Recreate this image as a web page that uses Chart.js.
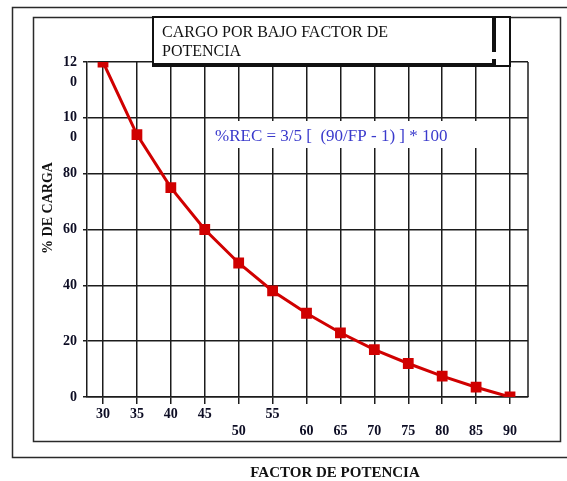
<!DOCTYPE html>
<html><head><meta charset="utf-8">
<script src="https://cdn.jsdelivr.net/npm/chart.js@4"></script>
<style>html,body{margin:0;padding:0;background:#fff;overflow:hidden}</style>
</head><body>
<canvas id="c" width="567" height="481"></canvas>
<script>
// ---- data ----
const factorPotencia = [30, 35, 40, 45, 50, 55, 60, 65, 70, 75, 80, 85, 90];
const porcentajeCarga = [120, 94, 75, 60, 48, 38, 30, 23, 17, 12, 7.5, 3.5, 0];
const xTickLabels = ['30', '35', '40', '45', '50', '55', '60', '65', '70', '75', '80', '85', '90'];
const xTickLowered = [false, false, false, false, true, false, true, true, true, true, true, true, true];
const yTickValues = [0, 20, 40, 60, 80, 100, 120];
const yTickLabels = [['0'], ['20'], ['40'], ['60'], ['80'], ['', '10', '0'], ['', '12', '0']];
const chartTitle = ['CARGO POR BAJO FACTOR DE', 'POTENCIA'];
const formulaText = '%REC = 3/5 [  (90/FP - 1) ] * 100';
const xTitle = 'FACTOR DE POTENCIA';
const yTitle = '% DE CARGA';

const points = factorPotencia.map((x, i) => ({ x: x, y: porcentajeCarga[i] }));
const lineCol = '#1c1c1c';
const serif = '"Liberation Serif", "DejaVu Serif", serif';

const decor = {
  id: 'decor',
  beforeDraw(chart) {
    const ctx = chart.ctx;
    ctx.save();
    ctx.fillStyle = '#fff';
    ctx.fillRect(0, 0, chart.width, chart.height);
    ctx.strokeStyle = '#2a2a2a';
    ctx.lineWidth = 1.5;
    ctx.beginPath();
    ctx.moveTo(chart.width, 7.5); ctx.lineTo(12.5, 7.5); ctx.lineTo(12.5, 457.5); ctx.lineTo(chart.width, 457.5);
    ctx.stroke();
    ctx.strokeRect(33.5, 17.5, 527, 424);
    // y title
    ctx.fillStyle = '#111';
    ctx.font = 'bold 14px ' + serif;
    ctx.textAlign = 'center';
    ctx.textBaseline = 'middle';
    ctx.translate(48, 208);
    ctx.rotate(-Math.PI / 2);
    ctx.fillText(yTitle, 0, 0);
    ctx.restore();
    ctx.save();
    ctx.fillStyle = '#111';
    ctx.font = 'bold 15px ' + serif;
    ctx.textAlign = 'center';
    ctx.textBaseline = 'middle';
    ctx.fillText(xTitle, 335, 473);
    ctx.restore();
  },
  beforeDatasetsDraw(chart) {
    const ctx = chart.ctx, a = chart.chartArea;
    ctx.save();
    ctx.strokeStyle = lineCol;
    ctx.lineWidth = 1.5;
    ctx.beginPath();
    ctx.moveTo(a.right, a.top); ctx.lineTo(a.right, a.bottom);
    ctx.stroke();
    // formula label
    ctx.fillStyle = '#fff';
    ctx.fillRect(207, 121, 293, 27);
    ctx.fillStyle = '#3a3acc';
    ctx.font = '17px ' + serif;
    ctx.textAlign = 'left';
    ctx.textBaseline = 'middle';
    ctx.fillText(formulaText, 215, 137);
    ctx.restore();
  },
  afterDraw(chart) {
    const ctx = chart.ctx;
    ctx.save();
    ctx.fillStyle = '#fff';
    ctx.fillRect(153, 17, 357, 49);
    ctx.strokeStyle = '#111';
    ctx.lineWidth = 2;
    ctx.strokeRect(153, 17, 357, 49);
    ctx.lineWidth = 4;
    ctx.beginPath();
    ctx.moveTo(153, 65); ctx.lineTo(496, 65);
    ctx.moveTo(494, 17); ctx.lineTo(494, 52);
    ctx.moveTo(494, 59); ctx.lineTo(494, 66);
    ctx.stroke();
    ctx.fillStyle = '#111';
    ctx.font = '16px ' + serif;
    ctx.textAlign = 'left';
    ctx.textBaseline = 'middle';
    ctx.fillText(chartTitle[0], 162, 33);
    ctx.fillText(chartTitle[1], 162, 52);
    ctx.restore();
  }
};

new Chart(document.getElementById('c'), {
  type: 'line',
  data: {
    datasets: [{
      data: points,
      borderColor: '#d00000',
      backgroundColor: '#d00000',
      borderWidth: 3,
      pointStyle: 'rect',
      pointRadius: 5.5,
      pointHoverRadius: 5.5,
      tension: 0
    }]
  },
  options: {
    responsive: false,
    animation: false,
    events: [],
    layout: { padding: { left: 0, top: 62, right: 39, bottom: 0 } },
    plugins: { legend: { display: false }, tooltip: { enabled: false } },
    scales: {
      x: {
        type: 'linear',
        min: 27.64,
        max: 92.65,
        afterFit(s) { s.height = 84; },
        afterBuildTicks(s) { s.ticks = factorPotencia.map(v => ({ value: v })); },
        grid: { color: lineCol, lineWidth: 1.5, tickLength: 7, drawTicks: true },
        border: { display: true, color: lineCol, width: 1.5 },
        ticks: {
          autoSkip: false,
          maxRotation: 0,
          padding: 2,
          color: '#0d0d24',
          font: { family: serif, size: 14, weight: 'bold', lineHeight: '17px' },
          callback(v, i) {
            const k = factorPotencia.indexOf(v);
            if (k < 0) return '';
            return xTickLowered[k] ? ['', xTickLabels[k]] : xTickLabels[k];
          }
        }
      },
      y: {
        type: 'linear',
        min: 0,
        max: 120,
        afterFit(s) { s.width = 87; },
        afterBuildTicks(s) { s.ticks = yTickValues.map(v => ({ value: v })); },
        grid: { color: lineCol, lineWidth: 1.5, tickLength: 4, drawTicks: true },
        border: { display: true, color: lineCol, width: 1.5 },
        ticks: {
          autoSkip: false,
          padding: 6,
          color: '#0d0d24',
          font: { family: serif, size: 14, weight: 'bold', lineHeight: '20px' },
          callback(v) {
            const k = yTickValues.indexOf(v);
            return k < 0 ? '' : yTickLabels[k];
          }
        }
      }
    }
  },
  plugins: [decor]
});
</script>
</body></html>
